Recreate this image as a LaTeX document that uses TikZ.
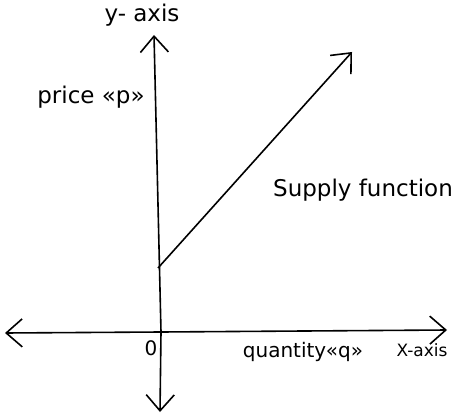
\documentclass[tikz,border=0pt]{standalone}
\usepackage{fontspec}
\setmainfont{DejaVu Sans}
\usetikzlibrary{arrows.meta}
\begin{document}
\begin{tikzpicture}[x=1pt,y=1pt,
  axisline/.style={line width=1.6pt,-{Straight Barb[length=16pt,width=28pt,line width=1.6pt]}},
  lbl/.style={inner sep=0pt}]
\useasboundingbox (0,0) rectangle (457,418);
\coordinate (O) at (161,86);
\coordinate (ytop) at (154,383);
\coordinate (ybot) at (160,6);
\coordinate (xleft) at (5,85);
\coordinate (xright) at (447,88);
\coordinate (s0) at (158,150);
\coordinate (s1) at (352,366);
\draw[axisline] (O) -- (ytop);
\draw[axisline] (O) -- (ybot);
\draw[axisline] (O) -- (xleft);
\draw[axisline] (O) -- (xright);
\draw[axisline] (s0) -- (s1);
\node[lbl,font=\fontsize{23}{26}\selectfont] (ylab) at (142,403) {y- axis};
\node[lbl,font=\fontsize{23}{28}\selectfont] (plab) at (91,321) {price «p»};
\node[lbl,font=\fontsize{23}{26}\selectfont] (slab) at (363,228) {Supply function};
\node[lbl,font=\fontsize{20}{24}\selectfont] (olab) at (151,70) {0};
\node[lbl,font=\fontsize{20}{24}\selectfont] (qlab) at (303,66) {quantity«q»};
\node[lbl,font=\fontsize{17}{20}\selectfont] (xlab) at (422,68) {X-axis};
\end{tikzpicture}
\end{document}
